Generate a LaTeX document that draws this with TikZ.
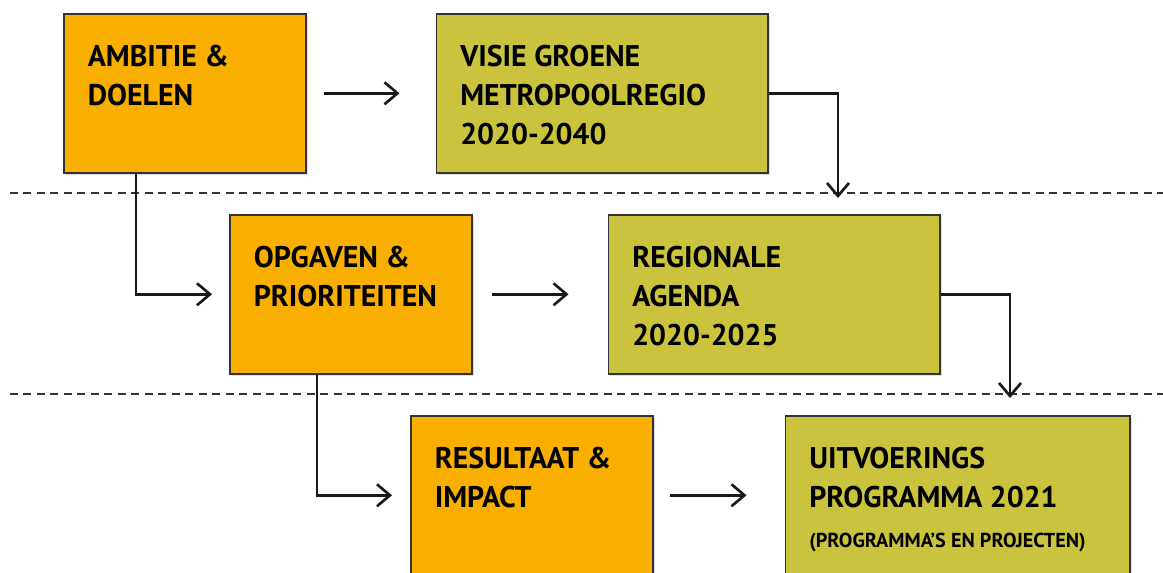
\documentclass[tikz,border=0pt]{standalone}
\usepackage{fontspec}
\setmainfont{PT Sans}
\usetikzlibrary{positioning, calc, shadows, arrows.meta}

\definecolor{oranje}{RGB}{248,175,0}
\definecolor{olijf}{RGB}{201,195,61}

\tikzstyle{block} = [rectangle, draw=black!80, line width=0.9pt, align=flush left, inner xsep=0.48cm, inner ysep=0pt, text height=1.06cm, text depth=2.12cm, font=\fontsize{17}{22}\selectfont\bfseries, drop shadow={shadow xshift=0.04cm, shadow yshift=-0.04cm, opacity=0.25}]
\tikzstyle{doel} = [block, fill=oranje, text width=3.88cm]
\tikzstyle{plan} = [block, fill=olijf, text width=5.68cm]
\tikzstyle{arrow} = [line width=1.5pt, draw=black!90, -{Straight Barb[length=0.26cm, width=0.44cm]}]
\tikzstyle{scheiding} = [line width=1.3pt, draw=black!80, dash pattern=on 0.16cm off 0.11cm]

\begin{document}
\begin{tikzpicture}[x=0.02cm, y=-0.02cm]
\useasboundingbox (0,0) rectangle (1163,572);
\clip (0,0) rectangle (1163,572);

% scheidingslijnen
\draw [scheiding] (10,193) -- (1163,193);
\draw [scheiding] (10,394) -- (1163,394);

\node (ambitie) [doel, anchor=north west] at (63,13) {AMBITIE \&\\DOELEN};
\node (visie) [plan, right=2.58cm of ambitie.north east, anchor=north west] {VISIE GROENE\\METROPOOLREGIO\\2020-2040};
\node (opgaven) [doel, anchor=north west] at (229,214) {OPGAVEN \&\\PRIORITEITEN};
\node (regionale) [plan, right=2.7cm of opgaven.north east, anchor=north west] {REGIONALE\\AGENDA\\2020-2025};
\node (resultaat) [doel, anchor=north west] at (410,415) {RESULTAAT \&\\IMPACT};
\node (uitvoering) [plan, text width=5.94cm, right=2.62cm of resultaat.north east, anchor=north west] {UITVOERINGS\\PROGRAMMA 2021\\[0.8pt]{\fontsize{11.5}{12}\selectfont (PROGRAMMA'S EN PROJECTEN)}};

\coordinate (pijl1) at (838,198);
\coordinate (pijl2) at (1010,398);

\draw [arrow, shorten <=0.34cm, shorten >=0.72cm] (ambitie) -- (visie);
\draw [arrow, shorten <=0.38cm, shorten >=0.78cm] (opgaven) -- (regionale);
\draw [arrow, shorten <=0.32cm, shorten >=0.76cm] (resultaat.east) -- (uitvoering.west);

\draw [arrow] (visie.east) -| (pijl1);
\draw [arrow] (regionale.east) -| (pijl2);
\draw [arrow, shorten >=0.34cm] ($(ambitie.south west)+(73,0)$) |- (opgaven.west);
\draw [arrow, shorten >=0.36cm] ($(opgaven.south west)+(88,0)$) |- (resultaat.west);

\end{tikzpicture}
\end{document}
